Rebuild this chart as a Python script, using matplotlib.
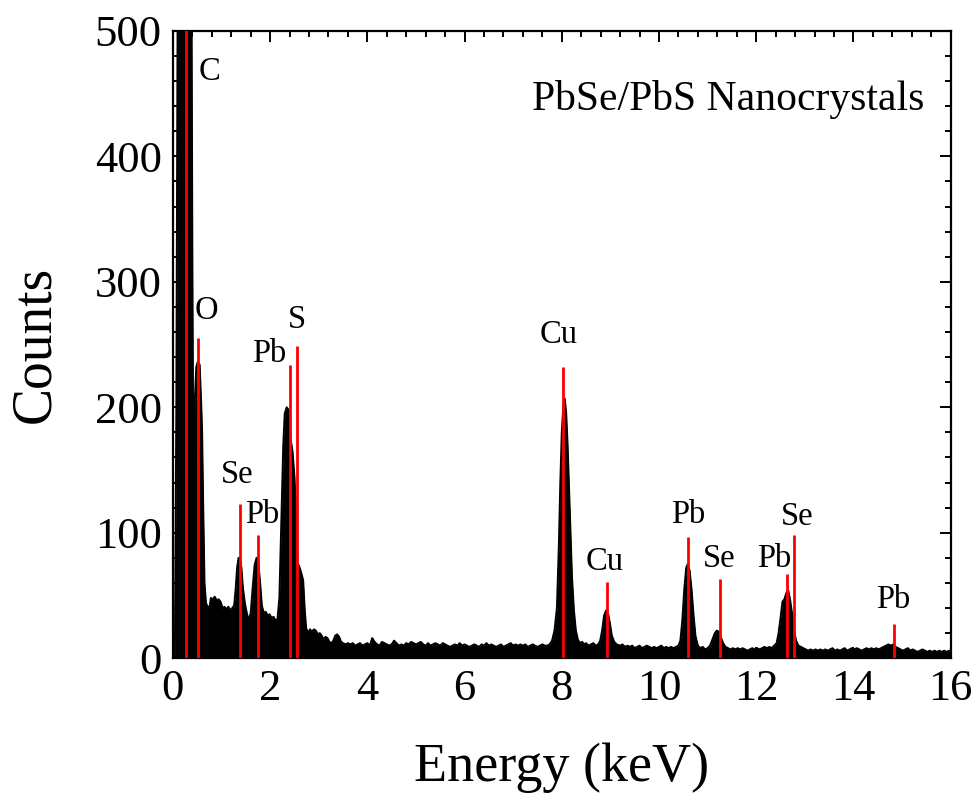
import matplotlib
matplotlib.use("Agg")
import matplotlib.pyplot as plt
from matplotlib.ticker import MultipleLocator

# ---- data ----
energy = [0.00, 0.04, 0.07, 0.10, 0.38, 0.40, 0.42, 0.45, 0.48, 0.51, 0.55, 0.58, 0.60, 0.62, 0.65,
          0.68, 0.72, 0.76, 0.78, 0.82, 0.86, 0.90, 0.94, 0.98, 1.02, 1.06, 1.10, 1.14, 1.18, 1.22,
          1.26, 1.29, 1.32, 1.35, 1.38, 1.41, 1.44, 1.48, 1.52, 1.56, 1.60, 1.64, 1.68, 1.72, 1.75,
          1.79, 1.83, 1.87, 1.91, 1.95, 1.99, 2.03, 2.07, 2.11, 2.15, 2.19, 2.23, 2.27, 2.30, 2.34,
          2.38, 2.42, 2.46, 2.50, 2.53, 2.56, 2.60, 2.64, 2.68, 2.71, 2.74, 2.78, 2.82, 2.86, 2.90,
          2.94, 2.98, 3.02, 3.06, 3.10, 3.14, 3.18, 3.22, 3.26, 3.30, 3.34, 3.38, 3.42, 3.46, 3.50,
          3.55, 3.60, 3.65, 3.70, 3.75, 3.80, 3.85, 3.90, 3.95, 4.00, 4.05, 4.10, 4.15, 4.20, 4.25,
          4.30, 4.35, 4.40, 4.45, 4.50, 4.55, 4.60, 4.65, 4.70, 4.75, 4.80, 4.85, 4.90, 4.95, 5.00,
          5.05, 5.10, 5.15, 5.20, 5.25, 5.30, 5.35, 5.40, 5.45, 5.50, 5.55, 5.60, 5.65, 5.70, 5.75,
          5.80, 5.85, 5.90, 5.95, 6.00, 6.05, 6.10, 6.15, 6.20, 6.25, 6.30, 6.35, 6.40, 6.45, 6.50,
          6.55, 6.60, 6.65, 6.70, 6.75, 6.80, 6.85, 6.90, 6.95, 7.00, 7.05, 7.10, 7.15, 7.20, 7.25,
          7.30, 7.35, 7.40, 7.45, 7.50, 7.55, 7.60, 7.65, 7.70, 7.75, 7.80, 7.85, 7.90, 7.94, 7.97,
          8.00, 8.03, 8.06, 8.09, 8.12, 8.15, 8.18, 8.21, 8.25, 8.29, 8.33, 8.37, 8.42, 8.46, 8.50,
          8.55, 8.60, 8.65, 8.70, 8.75, 8.79, 8.83, 8.87, 8.91, 8.95, 8.99, 9.03, 9.08, 9.13, 9.20,
          9.25, 9.30, 9.35, 9.40, 9.45, 9.50, 9.55, 9.60, 9.65, 9.70, 9.75, 9.80, 9.85, 9.90, 9.95,
          10.00, 10.05, 10.10, 10.15, 10.20, 10.25, 10.30, 10.35, 10.40, 10.44, 10.48, 10.52, 10.56,
          10.59, 10.63, 10.67, 10.71, 10.75, 10.80, 10.85, 10.90, 10.95, 11.00, 11.05, 11.10, 11.15,
          11.19, 11.23, 11.27, 11.32, 11.37, 11.42, 11.47, 11.52, 11.57, 11.62, 11.67, 11.72, 11.77,
          11.82, 11.87, 11.92, 11.97, 12.02, 12.07, 12.12, 12.17, 12.22, 12.27, 12.32, 12.37, 12.42,
          12.46, 12.50, 12.54, 12.58, 12.62, 12.66, 12.70, 12.74, 12.78, 12.82, 12.87, 12.92, 12.97,
          13.02, 13.07, 13.12, 13.17, 13.22, 13.27, 13.32, 13.37, 13.42, 13.47, 13.52, 13.57, 13.62,
          13.67, 13.72, 13.77, 13.82, 13.87, 13.92, 13.97, 14.02, 14.07, 14.12, 14.17, 14.22, 14.27,
          14.32, 14.37, 14.42, 14.47, 14.52, 14.57, 14.62, 14.67, 14.72, 14.77, 14.82, 14.87, 14.92,
          14.97, 15.02, 15.07, 15.12, 15.17, 15.22, 15.27, 15.32, 15.37, 15.42, 15.47, 15.52, 15.57,
          15.62, 15.67, 15.72, 15.77, 15.82, 15.87, 15.92, 15.97, 16.00]
counts = [0, 5, 200, 560, 560, 320, 150, 205, 232, 236, 234, 205, 182, 128, 60,
          44, 40, 42, 48, 47, 49, 46, 47, 45, 40, 41, 39, 41, 38, 40,
          42, 55, 72, 80, 79, 72, 56, 44, 36, 30, 36, 56, 74, 80, 79,
          62, 42, 36, 37, 34, 35, 32, 33, 30, 31, 48, 110, 170, 195, 200,
          198, 175, 165, 145, 120, 76, 73, 68, 62, 40, 24, 20, 23, 21, 23,
          22, 19, 20, 18, 15, 17, 16, 13, 12, 14, 18, 19, 17, 13, 12,
          11, 12, 11, 12, 10, 11, 12, 10, 11, 12, 10, 16, 13, 11, 10,
          13, 12, 11, 10, 11, 14, 12, 10, 11, 10, 12, 11, 13, 12, 11,
          12, 13, 11, 10, 12, 10, 11, 12, 11, 10, 12, 11, 10, 9, 10,
          11, 10, 12, 10, 11, 10, 9, 10, 11, 10, 9, 11, 10, 12, 10,
          11, 10, 9, 10, 11, 9, 10, 11, 12, 10, 11, 10, 11, 10, 11,
          9, 10, 11, 10, 9, 10, 11, 10, 10, 11, 14, 22, 40, 90, 140,
          180, 200, 207, 196, 170, 135, 100, 65, 38, 22, 15, 12, 13, 11, 12,
          10, 11, 12, 10, 11, 14, 22, 34, 38, 36, 28, 18, 13, 11, 10,
          11, 9, 10, 9, 10, 8, 9, 10, 8, 9, 10, 9, 8, 9, 8,
          9, 10, 8, 9, 8, 9, 8, 9, 10, 14, 30, 55, 72,
          75, 70, 55, 35, 18, 10, 8, 9, 7, 8, 10, 15, 20,
          22, 21, 17, 12, 9, 8, 7, 8, 7, 8, 7, 8, 7,
          6, 7, 8, 7, 8, 7, 8, 9, 8, 9, 8, 10, 12,
          20, 32, 45, 47, 52, 54, 46, 35, 22, 14, 10, 9, 8,
          7, 6, 7, 6, 7, 6, 7, 6, 7, 6, 7, 8, 6,
          7, 6, 7, 8, 6, 7, 8, 7, 8, 7, 6, 7, 8,
          7, 8, 7, 8, 7, 8, 9, 10, 11, 10, 11, 9, 8,
          7, 6, 7, 8, 6, 7, 6, 5, 6, 7, 6, 5, 6,
          5, 6, 5, 6, 5, 6, 5, 6, 6]

line_elements = ["C", "O", "Se", "Pb", "Pb", "S", "Cu", "Cu", "Pb", "Se", "Pb", "Se", "Pb"]
line_energy = [0.27, 0.51, 1.38, 1.75, 2.41, 2.55, 8.02, 8.93, 10.60, 11.26, 12.63, 12.78, 14.84]
line_height = [505, 255, 123, 98, 234, 249, 232, 61, 97, 63, 67, 98, 27]

# label placement (layout only)
label_pos = [(0.76, 461), (0.68, 270), (1.32, 140), (1.83, 108), (1.98, 236), (2.55, 263),
             (7.94, 251), (8.89, 70), (10.60, 108), (11.24, 73), (12.38, 73), (12.84, 106),
             (14.82, 40)]

serif = ["Liberation Serif", "DejaVu Serif"]
plt.rcParams["font.family"] = serif

fig = plt.figure(figsize=(9.77, 7.93), dpi=100)
ax = fig.add_axes([0.177, 0.170, 0.796, 0.791])

ax.fill_between(energy, counts, 0, color="black", linewidth=0, zorder=2)
ax.plot(energy, counts, color="black", linewidth=1.4, zorder=2)

ax.vlines(line_energy, 0, line_height, colors="#ff0000", linewidth=2.0, zorder=3)

for name, (lx, ly) in zip(line_elements, label_pos):
    ax.text(lx, ly, name, ha="center", va="baseline", fontsize=23.5, zorder=4)

ax.text(15.47, 437, "PbSe/PbS Nanocrystals", ha="right", va="baseline", fontsize=30)

ax.set_xlim(0, 16)
ax.set_ylim(0, 500)
ax.xaxis.set_major_locator(MultipleLocator(2))
ax.xaxis.set_minor_locator(MultipleLocator(0.4))
ax.yaxis.set_major_locator(MultipleLocator(100))
ax.yaxis.set_minor_locator(MultipleLocator(20))
ax.tick_params(which="both", direction="in", top=True, right=True, width=1.4, labelsize=32)
ax.tick_params(which="major", length=8, pad=8)
ax.tick_params(which="minor", length=4)
for s in ax.spines.values():
    s.set_linewidth(1.6)

ax.set_xlabel("Energy (keV)", fontsize=39, labelpad=24)
ax.set_ylabel("Counts", fontsize=40, labelpad=24)

fig.savefig("out.png", dpi=100)
